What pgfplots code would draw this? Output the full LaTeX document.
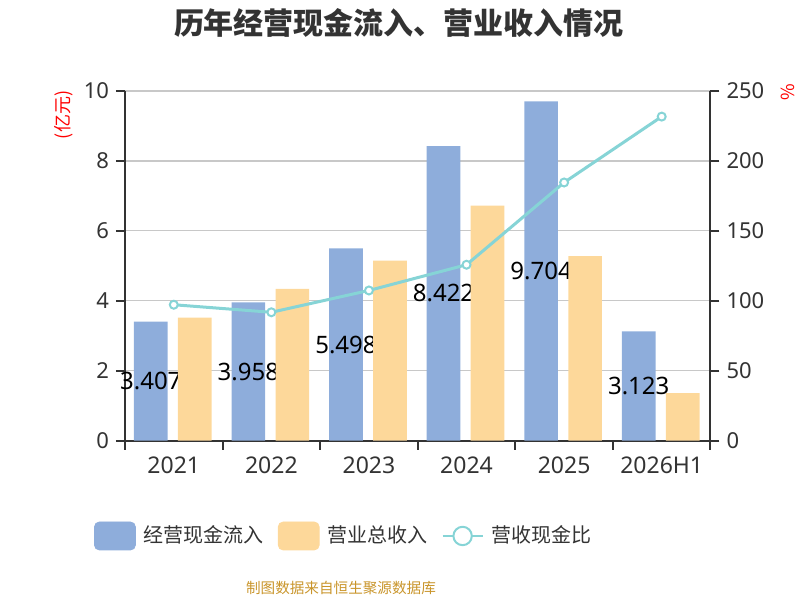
\documentclass[border=0pt]{standalone}
\usepackage{fontspec}
\usepackage{pgfplots}
\usepackage{pgfplotstable}
\pgfplotsset{compat=1.18}
\setmainfont{Noto Sans}
\newfontfamily\cjk{Noto Sans CJK SC}
\definecolor{cblue}{HTML}{8EADDB}
\definecolor{corange}{HTML}{FDD89A}
\definecolor{cline}{HTML}{86D4D6}
\definecolor{ctext}{HTML}{333333}
\definecolor{cgrid}{HTML}{C8C8C8}
\definecolor{csrc}{HTML}{C9952B}
\pgfplotstableread{
x cash rev ratio
0 3.407 3.52 97.2
1 3.958 4.34 91.8
2 5.498 5.15 107.4
3 8.422 6.72 125.8
4 9.704 5.28 184.6
5 3.123 1.36 231.7
}\datatab
\begin{document}
\begin{tikzpicture}
\useasboundingbox (0,0) rectangle (400pt,300pt);
\begin{axis}[
  at={(62.5pt,79.65pt)}, anchor=south west,
  scale only axis, width=292.75pt, height=174.85pt,
  xmin=-0.5, xmax=5.5, ymin=0, ymax=10,
  axis x line*=bottom, axis y line*=left,
  axis line style={draw=ctext, line width=1pt},
  xtick={-0.5,0.5,...,5.5},
  xticklabels={2021,2022,2023,2024,2025,2026H1},
  x tick label as interval,
  ytick={0,2,...,10},
  ymajorgrids, grid style={cgrid, line width=0.6pt},
  tick align=outside, major tick length=4.5pt,
  tick style={draw=ctext, line width=1pt},
  /pgf/number format/assume math mode=true,
  xticklabel style={font=\fontsize{11.5}{13}\selectfont, text=ctext},
  yticklabel style={font=\fontsize{11}{13}\selectfont, text=ctext},
]
\addplot[ybar, bar width=16.85pt, bar shift=-11.5pt, fill=cblue, draw=none] table[x=x, y=cash] {\datatab};
\addplot[draw=none, mark=none, nodes near coords, point meta=explicit symbolic,
  every node near coord/.append style={anchor=center, xshift=-11.5pt, font=\fontsize{12}{14}\selectfont, text=black}]
  table[x=x, y expr=\thisrow{cash}/2, meta=cash] {\datatab};
\end{axis}
\begin{axis}[
  at={(62.5pt,79.65pt)}, anchor=south west,
  scale only axis, width=292.75pt, height=174.85pt,
  xmin=-0.5, xmax=5.5, ymin=0, ymax=10,
  axis lines=none, xtick=\empty, ytick=\empty,
]
\addplot[ybar, bar width=16.85pt, bar shift=10.5pt, fill=corange, draw=none] table[x=x, y=rev] {\datatab};
\end{axis}
\begin{axis}[
  at={(62.5pt,79.65pt)}, anchor=south west,
  scale only axis, width=292.75pt, height=174.85pt,
  xmin=-0.5, xmax=5.5, ymin=0, ymax=250,
  axis x line=none, axis y line*=right,
  axis line style={draw=ctext, line width=1pt},
  ytick={0,50,...,250},
  tick align=outside, major tick length=4.5pt,
  tick style={draw=ctext, line width=1pt},
  /pgf/number format/assume math mode=true,
  yticklabel style={font=\fontsize{11}{13}\selectfont, text=ctext},
  legend columns=3,
  legend cell align=left,
  legend style={at={(rel axis cs:-0.0529,-0.2725)}, anchor=west, draw=none, fill=none,
    inner sep=0pt, outer sep=0pt,
    font=\cjk\fontsize{10}{12}\selectfont, text=ctext,
    nodes={inner xsep=0pt, inner ysep=1pt},
    /tikz/every even column/.append style={column sep=7pt},
    /tikz/every odd column/.append style={column sep=4pt}},
]
\addlegendimage{legend image code/.code={\fill[cblue, rounded corners=2.5pt] (0pt,-7pt) rectangle (20.5pt,7pt);}}
\addlegendentry{经营现金流入}
\addlegendimage{legend image code/.code={\fill[corange, rounded corners=2.5pt] (0pt,-7pt) rectangle (20.5pt,7pt);}}
\addlegendentry{营业总收入}
\addplot[cline, line width=1.5pt, mark=*, mark size=2pt, mark options={fill=white, draw=cline, line width=1pt},
  legend image code/.code={\draw[cline, line width=1pt] (0pt,0pt) -- (20pt,0pt); \draw[cline, line width=1pt, fill=white] (10pt,0pt) circle (4.6pt);}]
  table[x=x, y=ratio] {\datatab};
\addlegendentry{营收现金比}
\end{axis}
\node[text=ctext, font=\cjk\bfseries\fontsize{15}{18}\selectfont] at (199.5pt,288.5pt) {历年经营现金流入、营业收入情况};
\node[red, rotate=90, font=\cjk\fontsize{9}{10}\selectfont] at (31.75pt,242.5pt) {(亿元)};
\node[red, rotate=90, font=\cjk\fontsize{9}{10}\selectfont] at (393.75pt,253.75pt) {\%};
\node[text=csrc, font=\cjk\fontsize{7.3}{9}\selectfont] at (170.5pt,5.75pt) {制图数据来自恒生聚源数据库};
\end{tikzpicture}
\end{document}
